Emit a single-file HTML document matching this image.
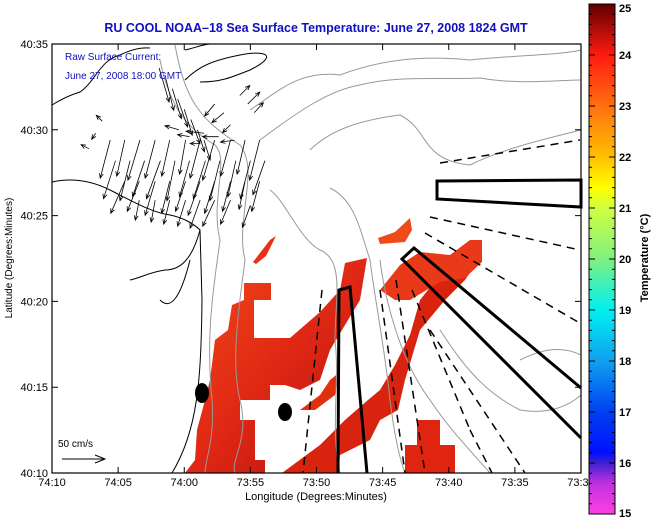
<!DOCTYPE html>
<html><head><meta charset="utf-8"><style>
body{margin:0;background:#fff;width:651px;height:518px;overflow:hidden;font-family:"Liberation Sans",sans-serif}
svg{display:block}
</style></head><body>
<svg id="chart" width="651" height="518" xmlns="http://www.w3.org/2000/svg">
<defs>
<linearGradient id="cbar" x1="0" y1="1" x2="0" y2="0">
<stop offset="0" stop-color="#ff40e0"/><stop offset="0.06" stop-color="#c030e0"/>
<stop offset="0.1" stop-color="#4020d0"/><stop offset="0.12" stop-color="#0010ff"/>
<stop offset="0.2" stop-color="#0040f0"/><stop offset="0.3" stop-color="#10a0f0"/>
<stop offset="0.4" stop-color="#00f0f0"/><stop offset="0.5" stop-color="#80f080"/>
<stop offset="0.6" stop-color="#d0ff40"/><stop offset="0.64" stop-color="#ffff00"/>
<stop offset="0.7" stop-color="#ffc000"/><stop offset="0.8" stop-color="#ff7010"/>
<stop offset="0.9" stop-color="#ff1a10"/><stop offset="1" stop-color="#600000"/>
</linearGradient>
<linearGradient id="sst" x1="0" y1="0" x2="1" y2="1">
<stop offset="0" stop-color="#f04a18"/><stop offset="0.5" stop-color="#e02814"/><stop offset="1" stop-color="#b01010"/>
</linearGradient>
</defs>
<text x="316" y="32" text-anchor="middle" font-size="12.5" font-weight="bold" fill="#1010c0">RU COOL   NOAA&#8211;18  Sea Surface Temperature:  June 27, 2008 1824 GMT</text>
<g id="sstg" fill="url(#sst)">
<polygon points="244,283 271,283 271,300 254,300 254,338 290,338 320,312 340,290 345,263 367,258 360,300 330,350 320,380 300,390 285,385 270,385 270,400 240,400 240,420 255,420 255,460 265,460 265,473 185,473 195,460 197,430 205,400 210,380 215,340 228,330 232,305 244,300"/>
<polygon points="282,473 320,445 345,420 368,400 380,390 395,365 410,335 420,300 440,275 460,260 470,255 475,265 465,280 445,300 420,330 405,380 398,410 380,420 370,440 340,455 338,473" fill="#d8240f"/>
<polygon points="380,290 400,265 420,252 450,255 470,240 482,240 482,262 465,278 440,282 410,300 395,300" fill="#e83a18"/>
<polygon points="417,420 440,420 440,445 455,445 455,473 405,473 405,445 417,445" fill="#e02410"/>
<polygon points="253,262 270,240 276,236 266,256 256,264" fill="#e83018"/>
<polygon points="378,238 395,232 410,218 412,230 405,242 380,244" fill="#f04a18"/>
<polygon points="300,410 320,395 330,380 340,372 335,395 315,410" fill="#e03010"/>
</g>
<g fill="none" stroke="#999" stroke-width="1">
<path d="M160,60 C170,110 190,130 215,145 C230,160 210,200 220,240 C215,280 205,330 212,400 C215,440 205,460 205,473"/>
<path d="M175,45 C185,100 200,120 240,145 C260,170 235,220 245,260 C240,300 230,360 240,400 C250,440 230,460 235,473"/>
<path d="M250,110 C280,90 300,70 340,75 C380,60 420,55 470,60 C520,55 560,55 581,50"/>
<path d="M260,140 C300,110 330,90 360,85 C400,75 440,80 480,78 C520,85 560,80 581,80"/>
<path d="M310,150 C330,130 360,120 400,115 C430,130 420,160 470,165 C500,150 540,140 581,130"/>
<path d="M330,188 C355,200 360,230 370,260 C375,300 385,350 390,400 C395,440 400,460 405,473"/>
<path d="M270,190 C285,200 300,240 320,250 C345,260 335,300 335,340 C340,380 330,430 340,473"/>
<path d="M380,260 C385,300 400,360 430,400 C450,430 470,450 490,473"/>
<path d="M440,330 C460,360 480,390 520,410 C550,415 570,405 581,395"/>
<path d="M520,360 C540,350 560,345 581,355"/>
</g>
<g fill="none" stroke="#000" stroke-width="1">
<path d="M52,105 C60,100 70,95 80,92 C95,82 100,60 120,55 C130,50 140,47 150,48 M185,50 C195,48 200,45 210,44"/>
<path d="M52,182 C70,178 90,180 110,190 C130,200 150,212 170,215 C185,218 195,225 200,230 L202,300 C201,380 198,430 172,473"/>
<path d="M200,230 C192,260 180,270 165,270 C150,272 140,278 130,280 M190,260 C180,300 170,310 160,300"/>
<path d="M185,80 C200,65 215,60 240,55 C265,50 280,55 250,70 C230,78 220,82 200,82"/>
</g>
<g id="arrows" stroke="#000" stroke-width="0.8" fill="none"></g>
<g fill="none" stroke="#000">
<polygon points="437,181 581,180 581,207 437,199" stroke-width="3"/>
<polyline points="581,388 414,248 402,259 581,438" stroke-width="3"/>
<polyline points="338,473 339,290 350,287 367,473" stroke-width="3"/>
<g stroke-width="1.5" stroke-dasharray="8,6">
<line x1="440" y1="163" x2="580" y2="140"/>
<line x1="430" y1="217" x2="580" y2="250"/>
<line x1="425" y1="233" x2="578" y2="322"/>
<line x1="322" y1="290" x2="303" y2="473"/>
<line x1="380" y1="290" x2="405" y2="473"/>
<line x1="396" y1="280" x2="425" y2="473"/>
<line x1="412" y1="290" x2="470" y2="430" /><line x1="470" y1="430" x2="492" y2="473"/>
<line x1="430" y1="330" x2="525" y2="473"/>
</g>
</g>
<ellipse cx="202" cy="393" rx="7" ry="10" fill="#000"/>
<ellipse cx="285" cy="412" rx="7" ry="9" fill="#000"/>
<text x="65" y="60" font-size="10" fill="#1010c0">Raw Surface Current:</text>
<text x="65" y="79" font-size="10" fill="#1010c0">June 27, 2008 18:00 GMT</text>
<text x="58" y="447" font-size="10" fill="#000">50 cm/s</text>
<g stroke="#000"><line x1="62" y1="459" x2="105" y2="459"/><polyline points="95,455 105,459 95,463" fill="none"/></g>
<rect x="52" y="44" width="529" height="429" fill="none" stroke="#000" stroke-width="1.2"/>
<g id="axes" font-size="11" fill="#000"></g>
<text x="316" y="500" text-anchor="middle" font-size="11">Longitude (Degrees:Minutes)</text>
<text transform="translate(12,258) rotate(-90)" text-anchor="middle" font-size="10">Latitude (Degrees:Minutes)</text>
<rect x="589" y="4" width="26" height="510" fill="url(#cbar)" stroke="#000"/>
<g id="cb" font-size="11" font-weight="bold"></g>
<text transform="translate(648,258) rotate(-90)" text-anchor="middle" font-size="11" font-weight="bold">Temperature (°C)</text>
</svg>
<script>
const xTicks=["74:10","74:05","74:00","73:55","73:50","73:45","73:40","73:35","73:30"];
const yTicks=["40:35","40:30","40:25","40:20","40:15","40:10"];
const cbTicks=[25,24,23,22,21,20,19,18,17,16,15];
// current vectors: lon minutes east of 74:10, lat minutes north of 40:10, u/v in px
const vecX=[8.1,8.6,9.1,9.5,10.0,10.5,11.0,11.5,12.3,13.0,13.5,14.2,14.8,15.3,11.5,12.6,13.8,9.6,10.4,11.2,
 4.4,5.5,6.65,7.8,8.9,10.1,11.2,12.3,13.5,14.6,15.7,
 4.8,5.9,7.0,8.2,9.3,10.4,11.6,12.7,13.9,15.0,16.1,
 5.5,6.6,7.8,8.9,10.1,11.2,12.3,13.5,14.6,15.7,
 6.6,7.8,8.9,10.1,11.2,12.3,13.5,15.0,3.8,3.3,2.8];
const vecY=[23.6,23.0,22.4,21.8,21.2,20.6,20.0,19.4,21.5,21.0,20.3,22.0,21.5,21.0,19.8,19.6,19.4,20.0,19.6,19.2,
 19.4,19.4,19.4,19.4,19.4,19.4,19.4,19.4,19.4,19.4,19.4,
 18.2,18.2,18.2,18.2,18.2,18.2,18.2,18.2,18.2,18.2,18.2,
 17.0,17.0,17.0,17.0,17.0,17.0,17.0,17.0,17.0,17.0,
 15.9,15.9,15.9,15.9,15.9,15.9,15.9,15.6,20.5,19.8,18.9];
const vecU=[10,8,9,10,8,9,7,6,-10,-12,-8,10,12,9,-18,-16,-14,-14,-12,-10,
 -10,-8,-12,-10,-8,-6,-10,-12,-10,-8,-10,
 -12,-10,-12,-14,-8,-10,-12,-10,-8,-10,-12,
 -14,-12,-10,-8,-10,-12,-10,-8,-6,-8,
 -4,-4,-6,-8,-10,-12,-10,-8,-6,-4,-8];
const vecV=[34,32,30,28,26,24,22,20,12,10,8,-10,-12,-10,-2,0,2,-4,-2,0,
 38,36,40,38,36,34,38,40,36,34,40,
 38,40,36,38,40,36,38,40,36,38,34,
 32,30,34,32,30,34,32,30,28,30,
 20,22,24,26,28,26,24,22,-6,6,-4];
const X0=52,Y0=473,kx=529/40,ky=429/25;
const sx=m=>X0+m*kx, sy=m=>Y0-m*ky;
const NS="http://www.w3.org/2000/svg";
const ag=document.getElementById('arrows');
for(let i=0;i<vecX.length;i++){
 const x=sx(vecX[i]),y=sy(vecY[i]),x2=x+vecU[i],y2=y+vecV[i];
 const a=Math.atan2(vecV[i],vecU[i]);
 const p=document.createElementNS(NS,'path');
 p.setAttribute('d',`M${x},${y}L${x2},${y2}M${x2-5*Math.cos(a-0.4)},${y2-5*Math.sin(a-0.4)}L${x2},${y2}L${x2-5*Math.cos(a+0.4)},${y2-5*Math.sin(a+0.4)}`);
 
 
 ag.appendChild(p);
}
const ax=document.getElementById('axes');
xTicks.forEach((t,i)=>{
 const x=sx(i*5);
 const l=document.createElementNS(NS,'path');
 l.setAttribute('d',`M${x},473v-6M${x},44v6`);l.setAttribute('stroke','#000');
 
 
 ax.appendChild(l);
 const tx=document.createElementNS(NS,'text');
 tx.setAttribute('x',x);tx.setAttribute('y',486);tx.setAttribute('text-anchor','middle');tx.textContent=t;
 
 
 ax.appendChild(tx);
});
yTicks.forEach((t,i)=>{
 const y=sy(25-i*5);
 const l=document.createElementNS(NS,'path');
 l.setAttribute('d',`M52,${y}h6M581,${y}h-6`);l.setAttribute('stroke','#000');
 
 
 ax.appendChild(l);
 const tx=document.createElementNS(NS,'text');
 tx.setAttribute('x',48);tx.setAttribute('y',y+4);tx.setAttribute('text-anchor','end');tx.textContent=t;
 
 
 ax.appendChild(tx);
});
const cb=document.getElementById('cb');
const cy=v=>4+(25-v)*51;
cbTicks.forEach(v=>{
 const y=cy(v);
 const tx=document.createElementNS(NS,'text');
 tx.setAttribute('x',619);tx.setAttribute('y',Math.min(Math.max(y+4,12),517));tx.textContent=v;
 
 
 cb.appendChild(tx);
 for(let k=0;k<5&&v>15;k++){
  const yy=y+k*10.2;
  const l=document.createElementNS(NS,'path');
  const w=k==0?6:3;
  l.setAttribute('d',`M589,${yy}h${w}M615,${yy}h-${w}`);l.setAttribute('stroke','#000');
  
  
  cb.appendChild(l);
 }
});
</script>
</body></html>
